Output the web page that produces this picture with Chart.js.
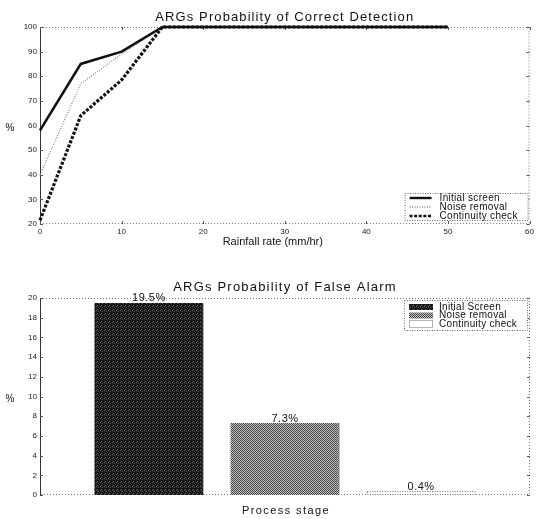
<!DOCTYPE html>
<html>
<head>
<meta charset="utf-8">
<script src="https://cdn.jsdelivr.net/npm/chart.js@4/dist/chart.umd.min.js"></script>
<style>
  html, body { margin: 0; padding: 0; background: #fff; width: 537px; height: 519px; overflow: hidden; }
  canvas { position: absolute; left: 0; }
  #detect { top: 0; }
  #alarm { top: 262px; }
</style>
</head>
<body>
<canvas id="detect" width="537" height="262"></canvas>
<canvas id="alarm" width="537" height="257"></canvas>
<script>
// --- Probability of correct detection vs rainfall rate ---
const rainRate        = [0, 5, 10, 15, 50];
const initialScreen   = [58, 85, 90, 100, 100];
const noiseRemoval    = [40, 77, 89, 100, 100];
const continuityCheck = [21.5, 64, 78.5, 100, 100];
const rateTicks       = [0, 10, 20, 30, 40, 50, 60];
const detectTicks     = [20, 30, 40, 50, 60, 70, 80, 90, 100];

// --- Probability of false alarm per process stage ---
const stageNames  = ['Initial Screen', 'Noise removal', 'Continuity check'];
const stageX      = [1, 2, 3];
const falseAlarm  = [19.5, 7.3, 0.4];
const alarmTicks  = [0, 2, 4, 6, 8, 10, 12, 14, 16, 18, 20];

const FONT = "'Liberation Sans', Arial, sans-serif";
Chart.defaults.font.family = FONT;
Chart.defaults.color = '#222';

// Fill textures for the bars
function makePattern(w, h, draw) {
  const c = document.createElement('canvas');
  c.width = w; c.height = h;
  draw(c.getContext('2d'));
  return c.getContext('2d').createPattern(c, 'repeat');
}
const darkFill = makePattern(4, 4, g => {
  g.fillStyle = '#181818'; g.fillRect(0, 0, 4, 4);
  g.fillStyle = '#666';
  g.fillRect(0, 0, 1, 1); g.fillRect(2, 1, 1, 1); g.fillRect(1, 3, 1, 1);
});
const greyFill = makePattern(2, 2, g => {
  g.fillStyle = '#bdbdbd'; g.fillRect(0, 0, 2, 2);
  g.fillStyle = '#4a4a4a';
  g.fillRect(0, 0, 1, 1); g.fillRect(1, 1, 1, 1);
});

// Frame around the plotting area with small inward tick marks
const framePlugin = {
  id: 'frame',
  beforeDatasetsDraw(chart) {
    const { ctx, chartArea: a, scales } = chart;
    ctx.save();
    ctx.lineWidth = 1;
    ctx.strokeStyle = '#777';
    ctx.setLineDash([1, 2]);
    ctx.beginPath();
    ctx.moveTo(a.left, a.top + 0.5);
    ctx.lineTo(a.right - 0.5, a.top + 0.5);
    ctx.lineTo(a.right - 0.5, a.bottom - 0.5);
    ctx.lineTo(a.left, a.bottom - 0.5);
    ctx.stroke();
    ctx.setLineDash([]);
    ctx.strokeStyle = '#333';
    ctx.beginPath();
    ctx.moveTo(a.left + 0.5, a.top);
    ctx.lineTo(a.left + 0.5, a.bottom);
    ctx.stroke();
    ctx.strokeStyle = '#555';
    ctx.beginPath();
    scales.y.ticks.forEach(t => {
      const y = Math.round(scales.y.getPixelForValue(t.value)) + 0.5;
      ctx.moveTo(a.left, y); ctx.lineTo(a.left + 3, y);
      ctx.moveTo(a.right, y); ctx.lineTo(a.right - 3, y);
    });
    if (scales.x.options.ticks.display) {
      scales.x.ticks.forEach(t => {
        const x = Math.round(scales.x.getPixelForValue(t.value)) + 0.5;
        ctx.moveTo(x, a.bottom); ctx.lineTo(x, a.bottom - 3);
        ctx.moveTo(x, a.top); ctx.lineTo(x, a.top + 3);
      });
    }
    ctx.stroke();
    ctx.restore();
  }
};

// Chart heading, axis caption and upright "%" label
function captions(id, heading, axisText, opt) {
  return {
    id,
    afterDraw(chart) {
      const { ctx, chartArea: a } = chart;
      const mid = (a.left + a.right) / 2;
      ctx.save();
      ctx.fillStyle = '#111';
      ctx.textAlign = 'center';
      ctx.textBaseline = 'middle';
      ctx.font = '13px ' + FONT;
      ctx.letterSpacing = opt.headSpacing + 'px';
      ctx.fillText(heading, mid, a.top - opt.headGap);
      ctx.font = '11px ' + FONT;
      ctx.letterSpacing = opt.axisSpacing + 'px';
      ctx.fillText(axisText, mid + opt.axisShift, a.bottom + opt.axisGap);
      ctx.letterSpacing = '0px';
      ctx.font = '10px ' + FONT;
      ctx.fillText('%', 10, (a.top + a.bottom) / 2 + 3);
      ctx.restore();
    }
  };
}

// Boxed legend drawn inside the plotting area
function boxedLegend(id, box, rows, drawSample) {
  return {
    id,
    afterDraw(chart) {
      const { ctx, chartArea: a } = chart;
      const x0 = a.right - box.right - box.w, y0 = box.top(a);
      ctx.save();
      ctx.fillStyle = '#fff';
      ctx.fillRect(x0, y0, box.w, box.h);
      ctx.strokeStyle = '#666';
      ctx.lineWidth = 1;
      ctx.setLineDash([1, 1.5]);
      ctx.strokeRect(x0 + 0.5, y0 + 0.5, box.w - 1, box.h - 1);
      ctx.setLineDash([]);
      ctx.font = '10px ' + FONT;
      ctx.letterSpacing = '0.3px';
      ctx.textBaseline = 'middle';
      chart.data.datasets.forEach((ds, i) => {
        const y = y0 + rows.first + i * rows.step;
        drawSample(ctx, ds, x0 + 5, y);
        ctx.fillStyle = '#111';
        ctx.fillText(ds.label, x0 + 35, y);
      });
      ctx.restore();
    }
  };
}

const tickFont = { size: 8 };

// ---------- Correct detection line chart ----------
const lineStyles = [
  { label: 'Initial screen',   values: initialScreen,   color: '#111', width: 2.6, dash: [] },
  { label: 'Noise removal',    values: noiseRemoval,    color: '#8a8a8a', width: 1.3, dash: [1, 1.5] },
  { label: 'Continuity check', values: continuityCheck, color: '#111', width: 3.2, dash: [3, 1.6] }
];

new Chart(document.getElementById('detect'), {
  type: 'line',
  data: {
    datasets: lineStyles.map(s => ({
      label: s.label,
      data: rainRate.map((r, i) => ({ x: r, y: s.values[i] })),
      borderColor: s.color,
      borderWidth: s.width,
      borderDash: s.dash,
      pointRadius: 0,
      tension: 0,
      fill: false,
      clip: 4
    }))
  },
  options: {
    responsive: false,
    animation: false,
    devicePixelRatio: 1,
    layout: { padding: { left: 0, right: 7, top: 27, bottom: 0 } },
    plugins: {
      legend: { display: false },
      tooltip: { enabled: false },
      title: { display: false }
    },
    scales: {
      x: {
        type: 'linear',
        min: 0, max: 60,
        afterBuildTicks: s => { s.ticks = rateTicks.map(v => ({ value: v })); },
        afterFit: s => { s.height = 38; },
        grid: { display: false, drawTicks: false },
        border: { display: false },
        ticks: { font: tickFont, color: '#222', padding: 3, maxRotation: 0 }
      },
      y: {
        min: 20, max: 100,
        afterBuildTicks: s => { s.ticks = detectTicks.map(v => ({ value: v })); },
        afterFit: s => { s.width = 40; },
        grid: { display: false, drawTicks: false },
        border: { display: false },
        ticks: { font: tickFont, color: '#222', padding: 3 }
      }
    }
  },
  plugins: [
    framePlugin,
    captions('detectCaptions', 'ARGs Probability of Correct Detection', 'Rainfall rate (mm/hr)',
      { headGap: 10, headSpacing: 1.1, axisGap: 18, axisShift: -12, axisSpacing: 0 }),
    boxedLegend('lineLegend',
      { w: 124, h: 28, right: 1, top: a => a.bottom - 31 },
      { first: 5, step: 9 },
      (ctx, ds, x, y) => {
        ctx.strokeStyle = ds.borderColor;
        ctx.lineWidth = Math.min(ds.borderWidth, 2.4);
        ctx.setLineDash(ds.borderDash);
        ctx.beginPath();
        ctx.moveTo(x, y);
        ctx.lineTo(x + 22, y);
        ctx.stroke();
        ctx.setLineDash([]);
      })
  ]
});

// ---------- False alarm bar chart ----------
const barStyles = [
  { fill: darkFill, edge: null },
  { fill: greyFill, edge: null },
  { fill: '#ffffff', edge: '#666' }
];

// Value labels above each bar, and dotted outline for the open bar
const barDecor = {
  id: 'barDecor',
  afterDatasetsDraw(chart) {
    const { ctx } = chart;
    ctx.save();
    chart.data.datasets.forEach((ds, i) => {
      const el = chart.getDatasetMeta(i).data[0];
      if (!el) return;
      const w = el.width;
      if (barStyles[i].edge) {
        ctx.strokeStyle = barStyles[i].edge;
        ctx.lineWidth = 1;
        ctx.setLineDash([1, 1.5]);
        ctx.strokeRect(el.x - w / 2 + 0.5, el.y + 0.5, w - 1, el.base - el.y - 1);
        ctx.setLineDash([]);
      }
      ctx.font = '11px ' + FONT;
      ctx.letterSpacing = '0.5px';
      ctx.fillStyle = '#111';
      ctx.textAlign = 'center';
      ctx.textBaseline = 'bottom';
      ctx.fillText(ds.data[0].y + '%', el.x, el.y + 1);
    });
    ctx.restore();
  }
};

new Chart(document.getElementById('alarm'), {
  type: 'bar',
  data: {
    datasets: stageNames.map((name, i) => ({
      label: name,
      data: [{ x: stageX[i], y: falseAlarm[i] }],
      backgroundColor: barStyles[i].fill,
      borderWidth: 0,
      grouped: false,
      barPercentage: 0.8,
      categoryPercentage: 1.0
    }))
  },
  options: {
    responsive: false,
    animation: false,
    devicePixelRatio: 1,
    layout: { padding: { left: 0, right: 7, top: 36, bottom: 0 } },
    plugins: {
      legend: { display: false },
      tooltip: { enabled: false },
      title: { display: false }
    },
    scales: {
      x: {
        type: 'linear',
        offset: false,
        min: 0.2, max: 3.8,
        afterBuildTicks: s => { s.ticks = stageX.map(v => ({ value: v })); },
        afterFit: s => { s.height = 24; },
        grid: { display: false, drawTicks: false, offset: false },
        border: { display: false },
        ticks: { display: false }
      },
      y: {
        min: 0, max: 20,
        afterBuildTicks: s => { s.ticks = alarmTicks.map(v => ({ value: v })); },
        afterFit: s => { s.width = 40; },
        grid: { display: false, drawTicks: false },
        border: { display: false },
        ticks: { font: tickFont, color: '#222', padding: 3 }
      }
    }
  },
  plugins: [
    framePlugin,
    barDecor,
    captions('alarmCaptions', 'ARGs Probability of False Alarm', 'Process stage',
      { headGap: 11, headSpacing: 1.2, axisGap: 16, axisShift: 1, axisSpacing: 1.4 }),
    boxedLegend('barLegend',
      { w: 124, h: 31, right: 2, top: a => a.top + 2 },
      { first: 7, step: 8.5 },
      (ctx, ds, x, y) => {
        ctx.fillStyle = ds.backgroundColor;
        ctx.fillRect(x, y - 3, 24, 6);
        if (ds.backgroundColor === '#ffffff') {
          ctx.strokeStyle = '#666';
          ctx.lineWidth = 1;
          ctx.setLineDash([1, 1]);
          ctx.strokeRect(x + 0.5, y - 3.5, 23, 7);
          ctx.setLineDash([]);
        }
      })
  ]
});
</script>
</body>
</html>
